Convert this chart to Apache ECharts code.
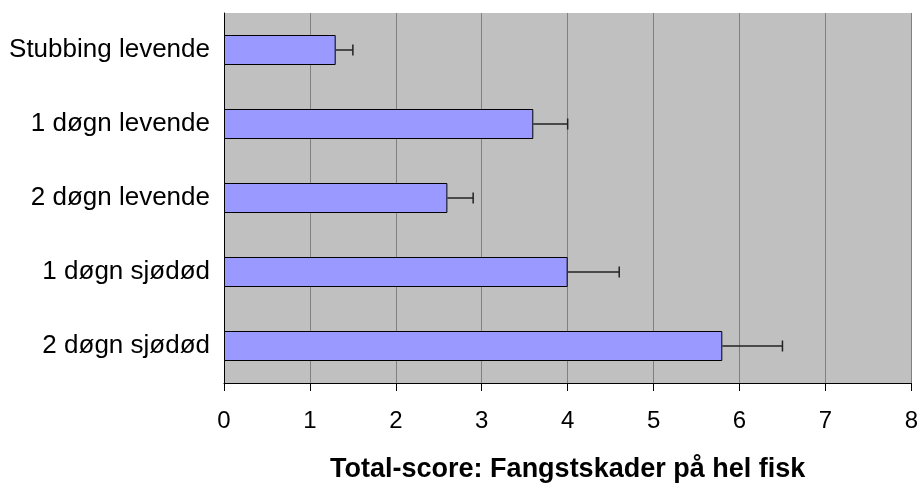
<!DOCTYPE html>
<html>
<head>
<meta charset="utf-8">
<script src="https://cdn.jsdelivr.net/npm/echarts@6/dist/echarts.min.js"></script>
<style>
  html, body { margin: 0; padding: 0; background: #fff; }
  #myChart { width: 921px; height: 488px; }
</style>
</head>
<body>
<div id="myChart"></div>
<script>
var categories = ['Stubbing levende', '1 døgn levende', '2 døgn levende', '1 døgn sjødød', '2 døgn sjødød'];
var means = [1.3, 3.6, 2.6, 4.0, 5.8];
var upperErr = [1.5, 4.0, 2.9, 4.6, 6.5];
var xTicks = [0, 1, 2, 3, 4, 5, 6, 7, 8];

var myChart = echarts.init(document.getElementById('myChart'));

// [category index, mean, mean + error]
var errData = categories.map(function (c, i) {
  return [i, means[i], upperErr[i]];
});

myChart.setOption({
  animation: false,
  textStyle: { fontFamily: 'Liberation Sans, Arial, sans-serif' },
  grid: {
    left: 224,
    right: 7,
    top: 13,
    bottom: 102,
    show: true,
    backgroundColor: '#c0c0c0',
    borderWidth: 0
  },
  xAxis: {
    type: 'value',
    min: xTicks[0],
    max: xTicks[xTicks.length - 1],
    interval: 1,
    name: 'Total-score: Fangstskader på hel fisk',
    nameLocation: 'middle',
    nameGap: 73,
    nameTextStyle: { fontSize: 27, fontWeight: 'bold', color: '#000' },
    axisLine: { show: true, lineStyle: { color: '#000', width: 1 } },
    axisTick: { show: true, length: 8, lineStyle: { color: '#000' } },
    axisLabel: { fontSize: 24, color: '#000', margin: 26 },
    splitLine: { show: true, lineStyle: { color: '#808080', width: 1 } }
  },
  yAxis: {
    type: 'category',
    data: categories,
    inverse: true,
    axisLine: { show: true, onZero: false, lineStyle: { color: '#000', width: 1 } },
    axisTick: { show: false },
    axisLabel: { fontSize: 26, color: '#000', margin: 14 },
    splitLine: { show: false }
  },
  series: [
    {
      type: 'bar',
      data: means,
      barWidth: 30,
      itemStyle: { color: '#9999ff', borderColor: '#000', borderWidth: 1 }
    },
    {
      type: 'custom',
      data: errData,
      z: 5,
      renderItem: function (params, api) {
        var y = api.value(0);
        var p0 = api.coord([api.value(1), y]);
        var p1 = api.coord([api.value(2), y]);
        var style = { stroke: '#222', lineWidth: 1.5 };
        return {
          type: 'group',
          children: [
            { type: 'line', shape: { x1: p0[0], y1: p0[1], x2: p1[0], y2: p1[1] }, style: style },
            { type: 'line', shape: { x1: p1[0], y1: p1[1] - 5.5, x2: p1[0], y2: p1[1] + 5.5 }, style: style }
          ]
        };
      }
    }
  ]
});
</script>
</body>
</html>
